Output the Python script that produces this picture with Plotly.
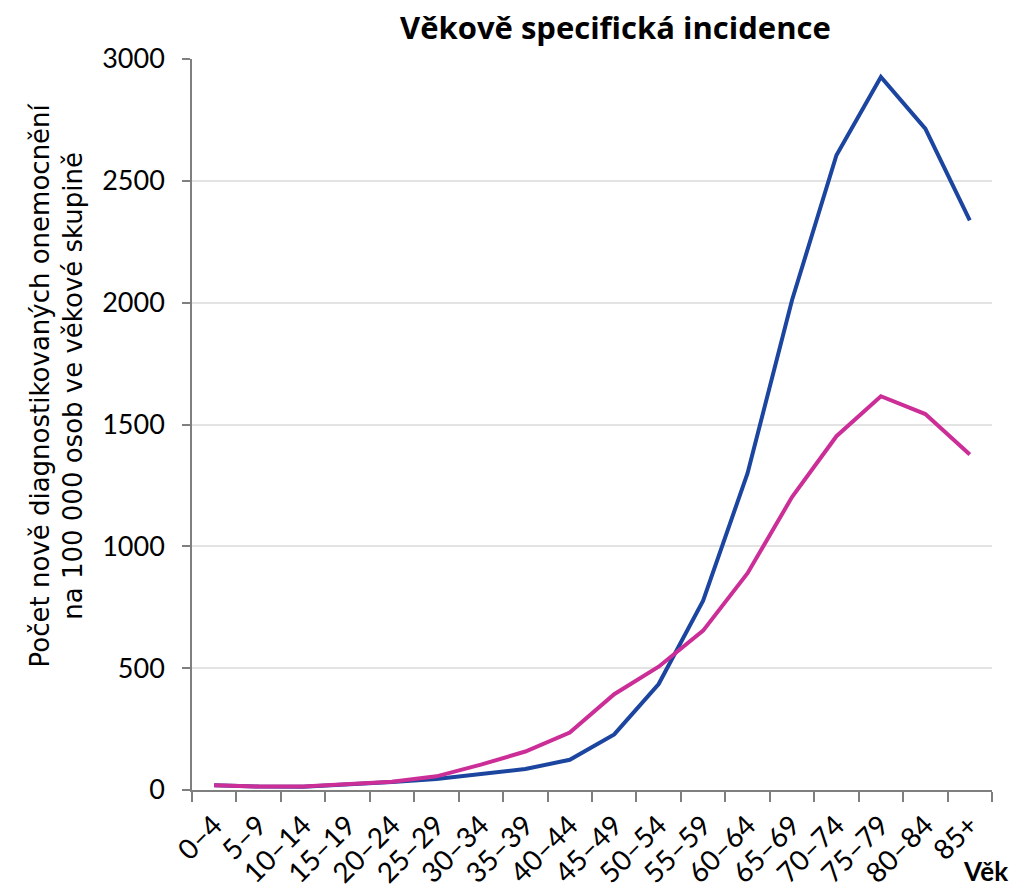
import plotly.graph_objects as go

categories = ["0–4", "5–9", "10–14", "15–19", "20–24", "25–29", "30–34", "35–39",
              "40–44", "45–49", "50–54", "55–59", "60–64", "65–69", "70–74",
              "75–79", "80–84", "85+"]
muzi = [20, 14, 13, 22, 33, 45, 66, 86, 124, 228, 435, 777, 1300, 2010, 2605, 2926, 2714, 2338]
zeny = [20, 14, 14, 22, 34, 56, 104, 158, 236, 393, 506, 654, 890, 1202, 1452, 1616, 1543, 1377]
yticks = [0, 500, 1000, 1500, 2000, 2500, 3000]

title_text = "Věkově specifická incidence"
ytitle = "Počet nově diagnostikovaných onemocnění<br>na 100 000 osob ve věkové skupině"
xtitle = "Věk"

FONT = "Lato, Open Sans, sans-serif"

fig = go.Figure()
fig.add_trace(go.Scatter(x=categories, y=muzi, mode="lines", name="Muži",
                         line=dict(color="#1B459F", width=4)))
fig.add_trace(go.Scatter(x=categories, y=zeny, mode="lines", name="Ženy",
                         line=dict(color="#CC2E98", width=4)))

fig.update_layout(
    width=1012, height=888,
    margin=dict(l=192, r=20, t=59, b=98, autoexpand=False),
    paper_bgcolor="white", plot_bgcolor="white",
    showlegend=False,
    font=dict(family=FONT, color="black"),
    annotations=[
        dict(text="<b>" + title_text + "</b>", xref="paper", yref="paper",
             x=0.529, y=1.0, yshift=32, xanchor="center", yanchor="middle",
             showarrow=False, font=dict(size=31, family="Open Sans, sans-serif")),
        dict(text=ytitle, xref="paper", yref="paper", x=0, xshift=-136, y=0.5, yshift=39,
             xanchor="center", yanchor="middle", textangle=-90, showarrow=False,
             font=dict(size=26, family="DejaVu Sans, sans-serif")),
        dict(text="<b>" + xtitle + "</b>", xref="paper", yref="paper", x=1.0, xshift=18, y=0,
             yshift=-81, xanchor="right", yanchor="middle", showarrow=False,
             font=dict(size=26, family=FONT)),
    ],
)

fig.update_xaxes(
    type="category", categoryorder="array", categoryarray=categories,
    range=[-0.5, len(categories) - 0.5], automargin=False,
    tickson="boundaries", ticks="outside", ticklen=10, tickcolor="#7f7f7f", tickwidth=1.5,
    showline=True, linecolor="#7f7f7f", linewidth=1.5,
    showgrid=False, tickangle=-45, ticklabelstandoff=6,
    tickfont=dict(size=28, family=FONT),
)
fig.update_yaxes(
    range=[0, 3000], tickvals=yticks, ticks="outside", ticklen=8, automargin=False,
    tickcolor="#7f7f7f", tickwidth=1.5,
    showline=True, linecolor="#7f7f7f", linewidth=1.5,
    showgrid=True, gridcolor="#e3e3e3", gridwidth=1.5,
    zeroline=False, ticklabelstandoff=12,
    tickfont=dict(size=27, family=FONT),
)

fig.write_html("out.html",
               config={"displayModeBar": False},
               post_script="document.body.style.margin='0';document.body.style.overflow='hidden';")
